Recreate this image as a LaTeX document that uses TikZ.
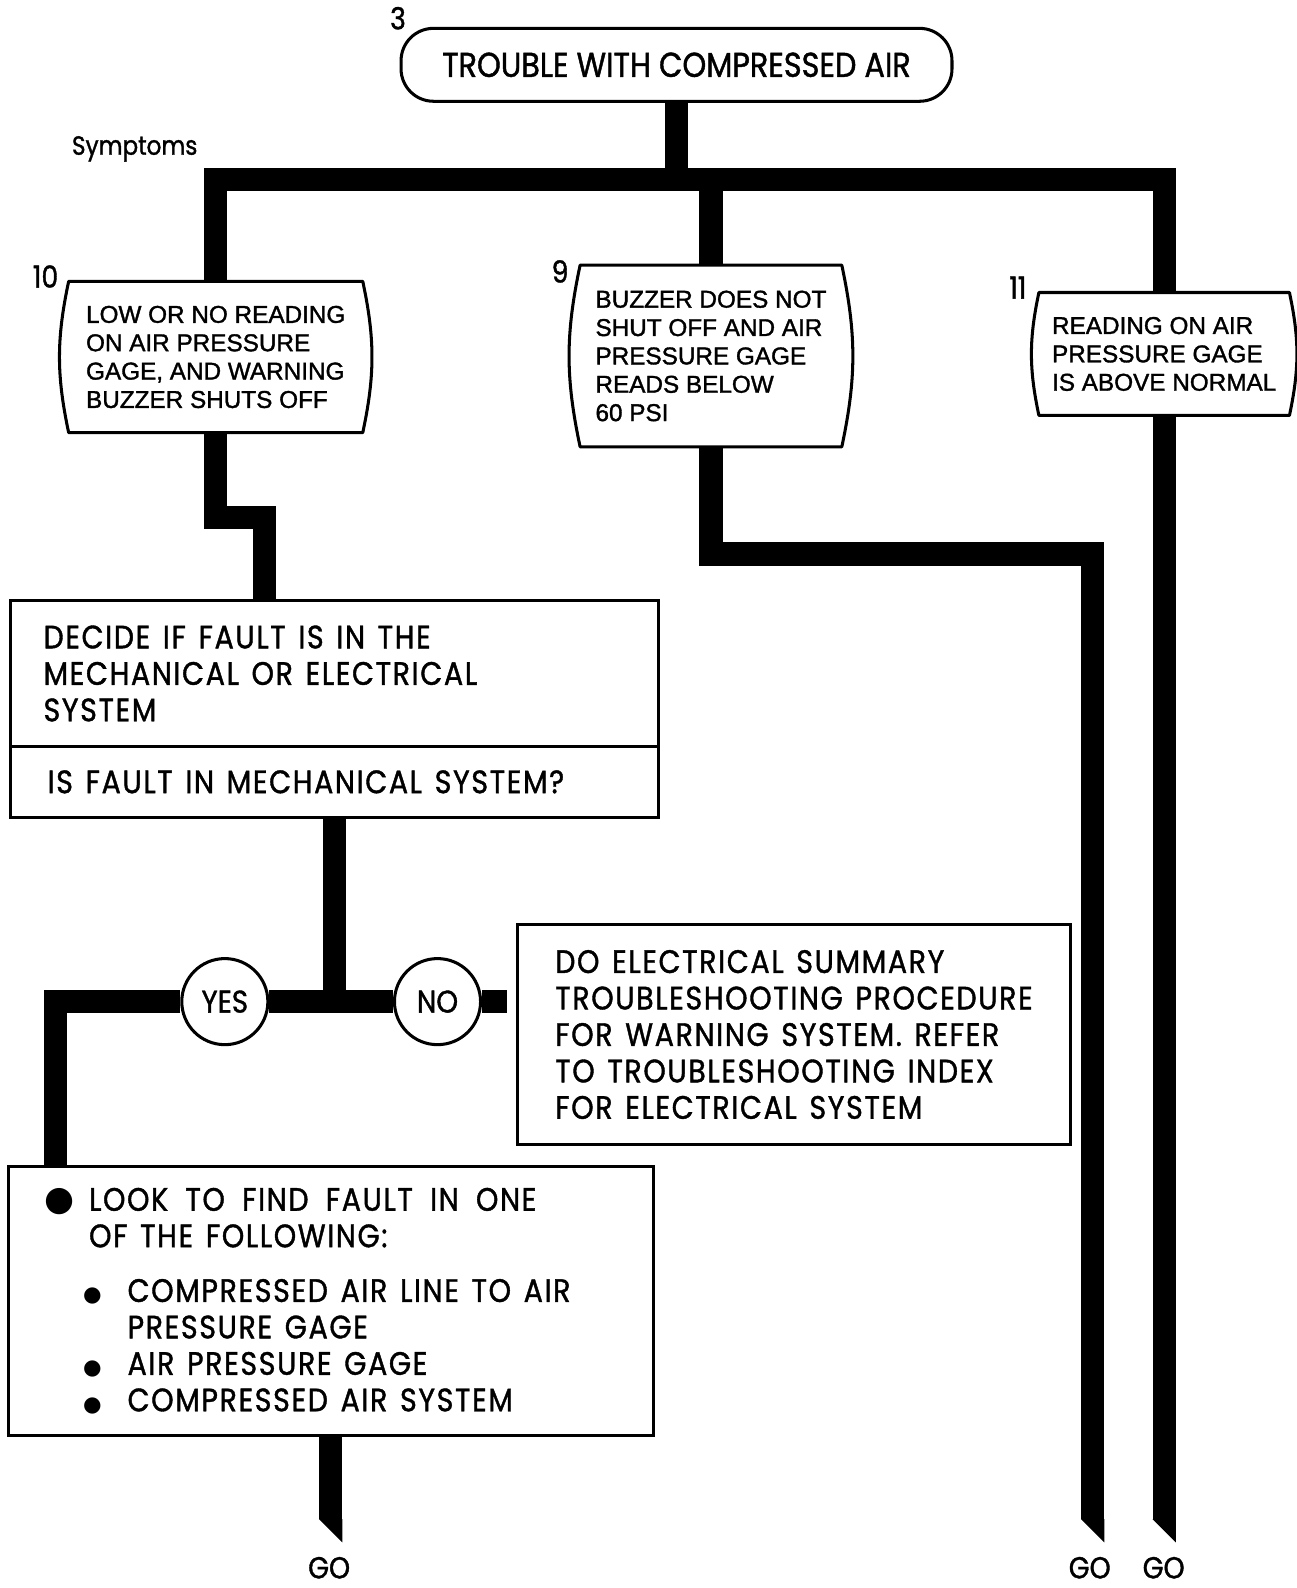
\documentclass[tikz,border=0pt]{standalone}
\usepackage{fontspec}
\setmainfont{Liberation Sans}
\newfontfamily\fut[FakeStretch=0.88,FakeBold=1.2]{Poppins}
\newfontfamily\futs[FakeStretch=0.88,FakeBold=1.2,LetterSpace=5]{Poppins}
\newfontfamily\helv[FakeBold=1.4]{Liberation Sans}
\newfontfamily\dejavu{DejaVu Sans}
\newcommand\bigbul{{\dejavu\fontsize{34}{34}\selectfont ●}}
\newcommand\smallbul{{\dejavu\fontsize{21}{21}\selectfont ●}}
\newcommand\barrel[1]{\draw[line width=3pt, line join=round] (#1.north west) -- (#1.north east) to[bend left=12] (#1.south east) -- (#1.south west) to[bend left=12] (#1.north west) -- cycle;}
\newcommand\gotip[1]{\fill ([xshift=-11.5pt]#1) -- ([xshift=11.5pt]#1) -- ([xshift=11.5pt,yshift=-23pt]#1) -- cycle;}
\begin{document}
\begin{tikzpicture}[x=1pt,y=-1pt,
  pipe/.style={line width=23pt, line join=miter},
  sym/.style={rectangle, inner sep=0pt, align=left, font=\helv\fontsize{24}{28}\selectfont},
  box/.style={draw, line width=3pt, rectangle, inner sep=0pt, align=left},
  body/.style={font=\futs\fontsize{32}{36}\selectfont, execute at begin node={\spaceskip=12.5pt\relax}},
  num/.style={font=\fut\fontsize{30}{30}\selectfont, inner sep=0pt},
  ring/.style={circle, draw, line width=3pt, fill=white, minimum size=85pt, inner sep=0pt, font=\fut\fontsize{31}{31}\selectfont},
  golbl/.style={font=\fut\fontsize{30}{30}\selectfont, inner sep=0pt}]
\useasboundingbox (0,0) rectangle (1280,1568);
\fill[white] (0,0) rectangle (1280,1568);

% nodes
\node[draw, line width=3pt, rounded corners=32pt, minimum width=544pt, minimum height=72pt, inner sep=0pt,
      font=\fut\fontsize{34}{40}\selectfont] (top) at (668,64) {TROUBLE WITH COMPRESSED AIR};
\node[num] (n3) at (393,18) {3};
\node[font=\fut\fontsize{26}{26}\selectfont, inner sep=0pt] (symp) at (133,147) {Symptoms};

\node[sym, minimum width=290pt, minimum height=149pt] (s10) at (213,352.5)
  {LOW OR NO READING\\ON AIR PRESSURE\\GAGE, AND WARNING\\BUZZER SHUTS OFF};
\node[num] (n10) at (45,273) {10};
\node[sym, minimum width=258pt, minimum height=179pt] (s9) at (702,351.5)
  {BUZZER DOES NOT\\SHUT OFF AND AIR\\PRESSURE GAGE\\READS BELOW\\60 PSI};
\node[num] (n9) at (553,268) {9};
\node[sym, minimum width=247pt, minimum height=121pt] (s11) at (1149.5,349.5)
  {READING ON AIR\\PRESSURE GAGE\\IS ABOVE NORMAL};
\node[num] (n11) at (1005,284) {11};
\barrel{s10}
\barrel{s9}
\barrel{s11}

\node[box, body, minimum width=640pt, minimum height=144pt, text width=574pt] (decide) at (330,665)
  {DECIDE IF FAULT IS IN THE\\MECHANICAL OR ELECTRICAL\\SYSTEM};
\node[box, body, minimum width=640pt, minimum height=70pt, text width=566pt] (question) at (330,772)
  {IS FAULT IN MECHANICAL SYSTEM?};

\node[box, body, minimum width=546pt, minimum height=217pt] (elec) at (784,1021.5)
  {DO ELECTRICAL SUMMARY\\TROUBLESHOOTING PROCEDURE\\FOR WARNING SYSTEM. REFER\\TO TROUBLESHOOTING INDEX\\FOR ELECTRICAL SYSTEM};

\node[box, body, minimum width=637pt, minimum height=265pt, text width=565pt] (look) at (326.5,1284.5)
  {\makebox[44pt][l]{\bigbul}{\spaceskip=17pt\relax LOOK TO FIND FAULT IN ONE}\\
   \hspace*{44pt}OF THE FOLLOWING:\\[18pt]
   \hspace*{38pt}\makebox[44pt][l]{\smallbul}COMPRESSED AIR LINE TO AIR\\
   \hspace*{82pt}PRESSURE GAGE\\
   \hspace*{38pt}\makebox[44pt][l]{\smallbul}AIR PRESSURE GAGE\\
   \hspace*{38pt}\makebox[44pt][l]{\smallbul}COMPRESSED AIR SYSTEM};

% coordinates
\path (top.south) ++(0,76) coordinate (jtop);
\coordinate (st) at (261.5,511);
\coordinate (k9) at (1079,547);
\coordinate (e1) at (326.5,1500);
\coordinate (e9) at (k9 |- e1);
\coordinate (e11) at (s11.south |- e1);
\coordinate (jq) at (question.south |- 0,989);

% connectors (pipes)
\draw[pipe] (top.south) -- (jtop);
\draw[pipe] (s10.north) |- (jtop) -| (s11.north);
\draw[pipe] (jtop -| s9.north) -- (s9.north);
\draw[pipe] (s10.south) |- (st) -- (st |- decide.north);
\draw[pipe] (s9.south) |- (k9) -- (e9);
\draw[pipe] (s11.south) -- (e11);
\draw[pipe] (question.south) -- (jq);
\draw[pipe] (look.south) -- (e1);
\gotip{e1}
\gotip{e9}
\gotip{e11}

\node[ring] (yes) at (222,989) {YES};
\node[ring] (no) at (432,989) {NO};
\draw[pipe] (yes) -- (no);
\draw[pipe] (yes) -| ([xshift=48pt]look.north west);
\draw[pipe, shorten >=9pt] (no) -- (no -| elec.west);

\node[golbl] (go1) at (325,1548) {GO};
\node[golbl] (go9) at (1076,1548) {GO};
\node[golbl] (go11) at (1149,1548) {GO};
\end{tikzpicture}
\end{document}
